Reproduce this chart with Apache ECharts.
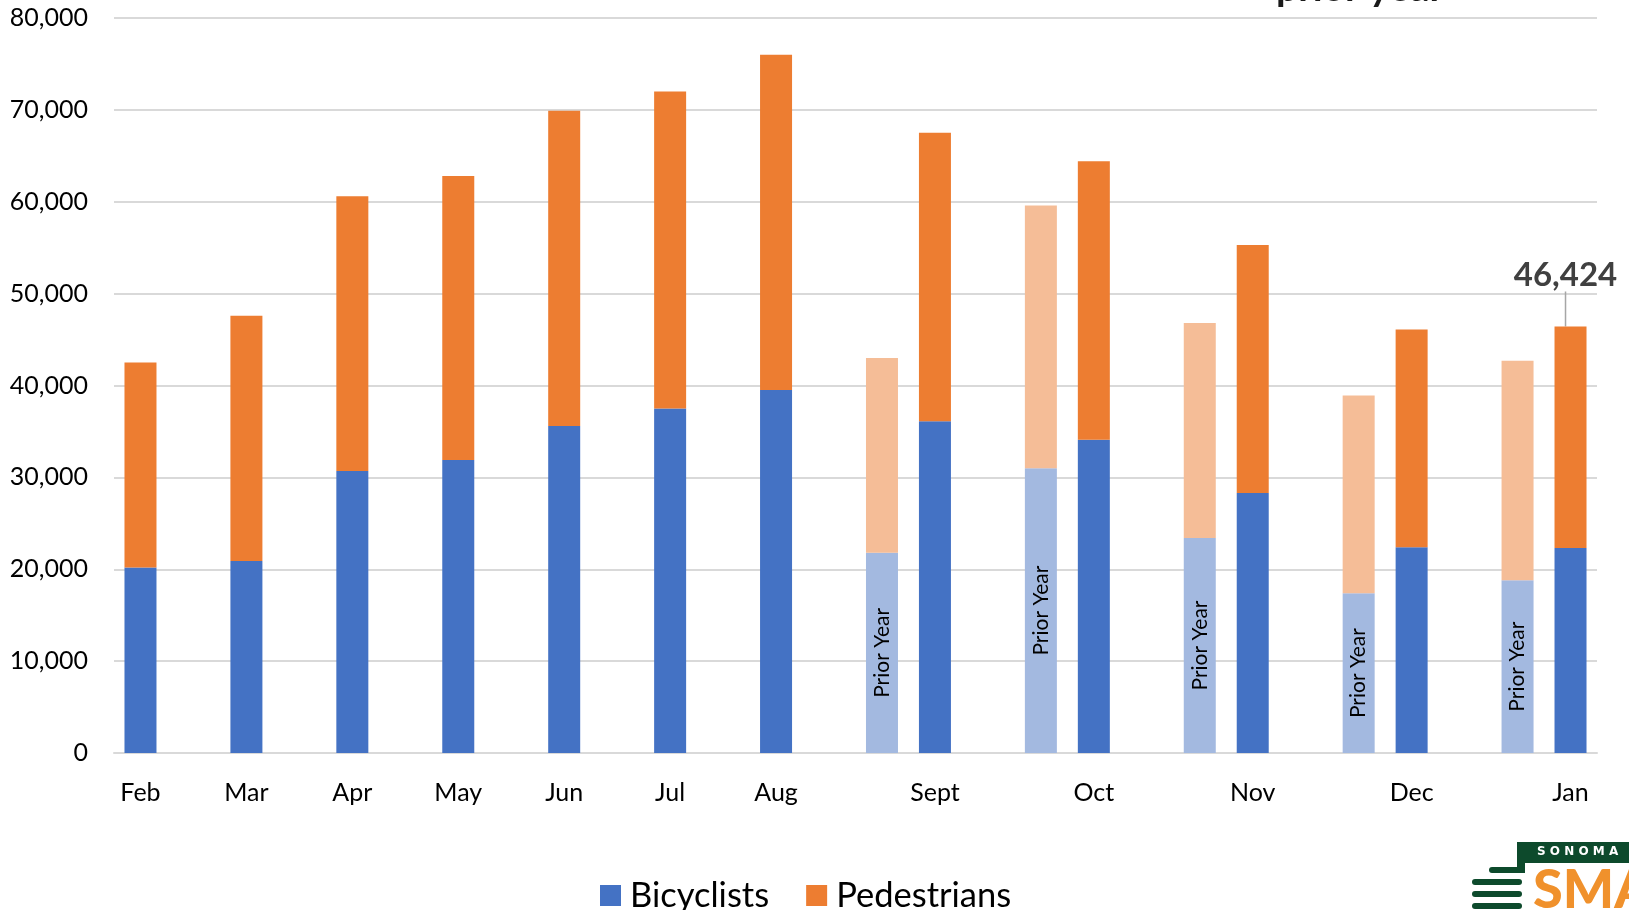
<!DOCTYPE html>
<html>
<head>
<meta charset="utf-8">
<title>Bicyclists and Pedestrians</title>
<script src="https://cdn.jsdelivr.net/npm/echarts@6/dist/echarts.min.js"></script>
<style>
    html,body{margin:0;padding:0;background:#fff;}
    #main{width:1629px;height:910px;}
</style>
</head>
<body>
<div id="main"></div>
<script>
//数据
var months = ["Feb","Mar","Apr","May","Jun","Jul","Aug","Sept","Oct","Nov","Dec","Jan"];
var bikeData = [20200,20900,30700,31900,35600,37500,39500,36100,34100,28300,22400,22300];
var pedData = [22300,26700,29900,30900,34300,34500,36500,31400,30300,27000,23700,24124];

var priorMonths = ["Sept","Oct","Nov","Dec","Jan"];
var priorBike = [21800,31000,23400,17400,18800];
var priorPed = [21200,28600,23400,21500,23900];

var yTicks = [0,10000,20000,30000,40000,50000,60000,70000,80000];

var blue = "#4472c4", orange = "#ed7d31",
    lightBlue = "#a3b9e0", lightOrange = "#f5bd97",
    font = "Lato";


/********** 拼出横轴的格子 ********** */
var slots = [], slotLabels = [], bikeSeries = [], pedSeries = [];
var lastIndex = 0;

$each(months, function(i, m){

    var p = priorMonths.indexOf(m);

    if(p > -1){
        slots.push("prior" + i);
        slotLabels.push("");
        bikeSeries.push({
            value : priorBike[p],
            itemStyle : {color : lightBlue},
            label : {show : true}
        });
        pedSeries.push({
            value : priorPed[p],
            itemStyle : {color : lightOrange}
        });
    }

    slots.push(m);
    slotLabels.push(m);
    bikeSeries.push(bikeData[i]);
    pedSeries.push(pedData[i]);
    lastIndex = slots.length - 1;

    if(i < months.length - 1){
        slots.push("gap" + i);
        slotLabels.push("");
        bikeSeries.push("-");
        pedSeries.push("-");
    }
});

//最后一个月显示总数
var lastTotal = bikeData[bikeData.length - 1] + pedData[pedData.length - 1];
pedSeries[lastIndex] = {
    value : pedData[pedData.length - 1],
    label : {show : true}
};

function $each(arr, fn){
    for(var i = 0; i < arr.length; i++){
        fn(i, arr[i]);
    }
}

function fmt(n){
    return String(n).replace(/\B(?=(\d{3})+(?!\d))/g, ",");
}


/********* 柱状图 *********/
var myChart = echarts.init(document.getElementById("main"));

var option = {

    animation : false,

    textStyle : {fontFamily : font},

    grid : {left : 114, right : 32, top : 18, bottom : 157},

    legend : {
        left : 595,
        top : 873,
        itemWidth : 21,
        itemHeight : 21,
        itemGap : 37,
        icon : "rect",
        textStyle : {fontSize : 34.5, color : "#000", fontFamily : font, padding : [0,0,0,4]},
        data : ["Bicyclists","Pedestrians"]
    },

    xAxis : {
        type : "category",
        data : slots,
        axisLine : {lineStyle : {color : "#d9d9d9", width : 2}},
        axisTick : {show : false},
        axisLabel : {
            interval : 0,
            margin : 27,
            fontSize : 25,
            color : "#000",
            fontFamily : font,
            formatter : function(value, index){
                return slotLabels[index];
            }
        }
    },

    yAxis : {
        type : "value",
        min : yTicks[0],
        max : yTicks[yTicks.length - 1],
        interval : yTicks[1] - yTicks[0],
        splitLine : {lineStyle : {color : "#d9d9d9", width : 2}},
        axisLabel : {
            margin : 26,
            fontSize : 25,
            color : "#000",
            fontFamily : font,
            formatter : function(v){ return fmt(v); }
        }
    },

    series : [
        {
            name : "Bicyclists",
            type : "bar",
            stack : "total",
            barWidth : 32,
            itemStyle : {color : blue},
            emphasis : {disabled : true},
            label : {
                show : false,
                position : "inside",
                rotate : 90,
                formatter : "Prior Year",
                fontSize : 21,
                color : "#000",
                fontFamily : font
            },
            data : bikeSeries
        },
        {
            name : "Pedestrians",
            type : "bar",
            stack : "total",
            barWidth : 32,
            itemStyle : {color : orange},
            emphasis : {disabled : true},
            label : {
                show : false,
                position : "top",
                fontSize : 33,
                fontWeight : "bold",
                color : "#404040",
                fontFamily : font,
                formatter : function(){ return fmt(lastTotal); }
            },
            labelLine : {show : true, lineStyle : {color : "#a6a6a6", width : 1.5}},
            labelLayout : function(params){
                return {dy : -30, dx : -5};
            },
            data : pedSeries
        }
    ],

    graphic : [
        //被截掉的标题
        {
            type : "text",
            left : 1276,
            top : -31,
            style : {text : "prior year", font : "bold 39px Lato", fill : "#1a1a1a"}
        },
        //右下角 logo
        {
            type : "group",
            left : 1472,
            top : 842,
            children : [
                {type : "rect", shape : {x : 48, y : 0, width : 120, height : 21, r : [8,0,0,0]}, style : {fill : "#0d4a2c"}},
                {type : "rect", shape : {x : 48, y : 0, width : 8, height : 31}, style : {fill : "#0d4a2c"}},
                {type : "rect", shape : {x : 20, y : 25, width : 36, height : 6, r : 3}, style : {fill : "#0d4a2c"}},
                {type : "rect", shape : {x : 3, y : 37, width : 50, height : 6, r : 3}, style : {fill : "#0d4a2c"}},
                {type : "rect", shape : {x : 3, y : 49, width : 50, height : 6, r : 3}, style : {fill : "#0d4a2c"}},
                {type : "rect", shape : {x : 3, y : 61, width : 50, height : 6, r : 3}, style : {fill : "#0d4a2c"}},
                {type : "text", x : 68, y : 4, style : {text : "S O N O M A", font : "bold 12px 'DejaVu Sans'", fill : "#fff"}},
                {type : "text", x : 64, y : 22, style : {text : "SMA", font : "900 54px Lato", fill : "#f0912c"}}
            ]
        }
    ]
};

myChart.setOption(option);
</script>
</body>
</html>
